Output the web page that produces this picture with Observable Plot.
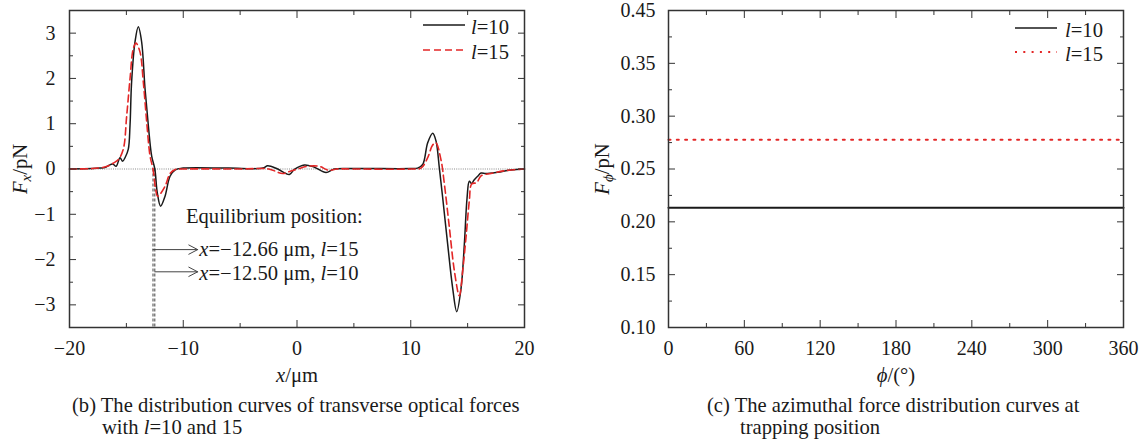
<!DOCTYPE html>
<html><head><meta charset="utf-8">
<script src="https://cdn.jsdelivr.net/npm/d3@7"></script>
<script src="https://cdn.jsdelivr.net/npm/@observablehq/plot@0.6"></script>
<style>
body{margin:0;background:#fff;font-family:"Liberation Serif","Times New Roman",serif;color:#1a1a1a;}
#wrap{display:flex;width:1142px;height:448px;overflow:hidden;}
.panel{position:relative;}
.cap{position:absolute;font-size:20.6px;line-height:22px;white-space:nowrap;}
.cap .l2{padding-left:30px;}
</style></head><body><div id="wrap"><div class="panel" id="pb"></div><div class="panel" id="pc"></div></div>
<script>
// ---------- Panel (b): transverse optical force Fx vs x ----------
const x10 = [-20,-18,-17.3,-16.9,-16.6,-16.2,-15.9,-15.56,-15.33,-15.1,-14.83,-14.68,-14.54,-14.24,-13.95,-13.66,-13.36,-13.07,-12.78,-12.5,-12.28,-11.99,-11.6,-11.16,-10.7,-10,-6,-3,-2.58,-1.7,-0.67,-0.23,0.65,1.52,2.55,3.28,5,10,10.6,11.05,11.49,11.93,12.22,12.51,12.81,13.25,13.69,14.04,14.42,14.71,14.95,15.15,15.35,15.55,15.88,16.18,16.6,17.64,18.8,20];
const fx10 = [0,0.01,0.02,0.03,0.07,0.11,0.06,0.25,0.17,0.26,0.44,0.96,1.92,2.81,3.14,2.81,1.77,0.96,0.29,0,-0.53,-0.82,-0.6,-0.16,-0.02,0.02,0.02,0.02,0.07,0,-0.12,-0.01,0.09,0.04,-0.08,0,0.01,0.01,0.02,0.1,0.58,0.79,0.62,0.03,-0.64,-1.67,-2.64,-3.15,-2.64,-1.67,-0.64,-0.27,-0.32,-0.25,-0.16,-0.09,-0.1,-0.07,-0.02,0];
const x15 = [-20,-18,-17,-16.5,-16.15,-15.7,-15.27,-14.97,-14.68,-14.39,-14.15,-13.8,-13.51,-13.21,-12.92,-12.66,-12.45,-12.25,-11.6,-11.16,-10.7,-10,-5,-2.5,-1.26,-0.6,0.06,0.94,1.93,2.81,3.5,5,10,10.9,11.49,11.9,12.2,12.66,12.95,13.39,13.83,14.27,14.57,14.86,15.15,15.36,15.8,16.18,17.05,18.2,20];
const fx15 = [0,0.01,0.04,0.08,0.13,0.21,0.44,1.18,1.99,2.66,2.78,2.58,1.92,1.03,0.29,0,-0.4,-0.6,-0.38,-0.1,-0.01,0,0,0,-0.1,-0.05,0,0.06,0.06,-0.03,0,0,0,0.02,0.25,0.52,0.58,0.2,-0.32,-1.28,-2.24,-2.8,-2.24,-1.5,-0.7,-0.33,-0.3,-0.15,-0.1,-0.04,0];
const eqX = [-12.66, -12.50];           // equilibrium positions (l=15, l=10)
const eqArrowY = [-1.78, -2.27];        // arrow rows
const eqArrowEnd = -8.73;
const eqLabels = ["x=−12.66 μm, l=15", "x=−12.50 μm, l=10"];
const eqTitle = "Equilibrium position:";
const xTicksB = [-20,-10,0,10,20], xMinorB = [-15,-5,5,15];
const yTicksB = [-3,-2,-1,0,1,2,3], yMinorB = [-2.5,-1.5,-0.5,0.5,1.5,2.5];

// ---------- Panel (c): azimuthal force Fphi vs phi ----------
const phi = [0,60,120,180,240,300,360];
const fphi10 = [0.2133,0.2133,0.2133,0.2133,0.2133,0.2133,0.2133];
const fphi15 = [0.2776,0.2776,0.2776,0.2776,0.2776,0.2776,0.2776];
const xTicksC = [0,60,120,180,240,300,360], xMinorC = [30,90,150,210,270,330];
const yTicksC = [0.10,0.15,0.20,0.25,0.30,0.35,0.40], yMinorC = [0.125,0.175,0.225,0.275,0.325,0.375];
const yTickLabelsC = ["0.10","0.15","0.20","0.25","0.30","0.35","0.45"];

const seriesNames = ["l=10","l=15"];

// rich text pieces (italic / subscript)
const rich = {
  "Fx/pN": [["F","i"],["x","isub"],["/pN",""]],
  "Fphi/pN": [["F","i"],["ϕ","isub"],["/pN",""]],
  "x/μm": [["x","i"],["/μm",""]],
  "phi/(°)": [["ϕ","i"],["/(°)",""]],
  "l=10": [["l","i"],["=10",""]],
  "l=15": [["l","i"],["=15",""]],
  "x=−12.66 μm, l=15": [["x","i"],["=−12.66 μm, ",""],["l","i"],["=15",""]],
  "x=−12.50 μm, l=10": [["x","i"],["=−12.50 μm, ",""],["l","i"],["=10",""]]
};
function applyRich(svg){
  svg.querySelectorAll("text").forEach(t => {
    const segs = rich[t.textContent];
    if (!segs) return;
    t.textContent = "";
    let shifted = false;
    for (const [s, st] of segs) {
      const ts = document.createElementNS("http://www.w3.org/2000/svg","tspan");
      ts.textContent = s;
      if (st.includes("i")) ts.setAttribute("font-style","italic");
      if (st.includes("sub")) { ts.setAttribute("dy","4"); ts.setAttribute("font-size","15"); shifted = true; }
      else if (shifted) { ts.setAttribute("dy","-4"); shifted = false; }
      t.appendChild(ts);
    }
  });
}

const FS = 20.6;
function legendMark(items, o){
  return (index, scales, values, dims) => {
    const g = d3.create("svg:g");
    const R = dims.width - dims.marginRight;
    items.forEach((s, i) => {
      const y = dims.marginTop + o.rowY[i];
      g.append("line").attr("x1", R - o.x1).attr("x2", R - o.x2).attr("y1", y).attr("y2", y)
        .attr("stroke", s.color).attr("stroke-width", s.width).attr("stroke-dasharray", s.dash);
      g.append("text").attr("x", R - o.tx).attr("y", y + 2).attr("dy", "0.32em")
        .attr("text-anchor", "start").attr("font-size", FS).attr("fill", "#1a1a1a").text(s.label);
    });
    return g.node();
  };
}

const INK = "#1a1a1a", FRAME = "#333", RED = "#e32626";
function tickMarks(major, minor, majorY, minorY){
  const out = [];
  for (const a of ["bottom","top"]) {
    out.push(Plot.axisX(major, {anchor:a, tickSize:-7, fill:"none", stroke:FRAME, label:null}));
    out.push(Plot.axisX(minor, {anchor:a, tickSize:-4, fill:"none", stroke:FRAME, label:null}));
  }
  for (const a of ["left","right"]) {
    out.push(Plot.axisY(majorY, {anchor:a, tickSize:-7, fill:"none", stroke:FRAME, label:null}));
    out.push(Plot.axisY(minorY, {anchor:a, tickSize:-4, fill:"none", stroke:FRAME, label:null}));
  }
  return out;
}

const style = {fontFamily:'"Liberation Serif","Times New Roman",serif', fontSize:FS+"px", color:INK, background:"white", overflow:"visible"};

// ---- build panel b ----
const dataB = [
  ...x10.map((x,i)=>({x, f:fx10[i], s:seriesNames[0]})),
  ...x15.map((x,i)=>({x, f:fx15[i], s:seriesNames[1]}))
];
const plotB = Plot.plot({
  width:600, height:390, marginLeft:69, marginRight:76, marginTop:10, marginBottom:63,
  style,
  x:{domain:[-20,20]}, y:{domain:[-3.5,3.5]},
  marks:[
    Plot.ruleY([0], {stroke:"#8a8a8a", strokeWidth:1, strokeDasharray:"1,1.2"}),
    Plot.ruleX(eqX, {x:d=>d, y1:0, y2:-3.5, stroke:"#444", strokeWidth:1, strokeDasharray:"3,2"}),
    Plot.line(dataB.filter(d=>d.s===seriesNames[0]), {x:"x", y:"f", stroke:INK, strokeWidth:1.5, curve:"catmull-rom"}),
    Plot.line(dataB.filter(d=>d.s===seriesNames[1]), {x:"x", y:"f", stroke:RED, strokeWidth:1.6, strokeDasharray:"7,4", curve:"catmull-rom"}),
    Plot.arrow(eqX, {x1:d=>d, x2:()=>eqArrowEnd, y1:(d,i)=>eqArrowY[i], y2:(d,i)=>eqArrowY[i], stroke:"#444", strokeWidth:1, headLength:15, headAngle:55}),
    Plot.text([eqTitle], {x:()=>-9.76, y:()=>-1.04, text:d=>d, textAnchor:"start", lineAnchor:"middle", fontSize:FS, fill:INK}),
    Plot.text(eqLabels, {x:()=>-8.59, y:(d,i)=>[-1.77,-2.3][i], text:d=>d, textAnchor:"start", lineAnchor:"middle", fontSize:FS, fill:INK}),
    Plot.frame({stroke:FRAME, strokeWidth:1.5}),
    ...tickMarks(xTicksB, xMinorB, yTicksB, yMinorB),
    Plot.axisX(xTicksB, {anchor:"bottom", tickSize:0, tickPadding:13, label:null, fontSize:20, fill:INK}),
    Plot.axisY(yTicksB, {anchor:"left", tickSize:0, tickPadding:14, label:null, fontSize:20, fill:INK}),
    Plot.text(["Fx/pN"], {frameAnchor:"left", dx:-49, rotate:-90, textAnchor:"middle", lineAnchor:"middle", text:d=>d, fontSize:FS, fill:INK}),
    Plot.text(["x/μm"], {frameAnchor:"bottom", dy:48, textAnchor:"middle", lineAnchor:"middle", text:d=>d, fontSize:FS, fill:INK}),
    legendMark([
      {label:seriesNames[0], color:INK, width:1.5, dash:null},
      {label:seriesNames[1], color:RED, width:1.6, dash:"7,4"}
    ], {rowY:[15,40], x1:101, x2:59, tx:53})
  ]
});
applyRich(plotB);
const pb = document.getElementById("pb");
pb.style.width = "600px";
pb.appendChild(plotB);
const capB = document.createElement("div");
capB.className = "cap"; capB.style.left = "72px"; capB.style.top = "394px";
capB.innerHTML = '(b) The distribution curves of transverse optical forces<br><span class="l2">with <i>l</i>=10 and 15</span>';
pb.appendChild(capB);

// ---- build panel c ----
const dataC = [
  ...phi.map((p,i)=>({p, f:fphi10[i], s:seriesNames[0]})),
  ...phi.map((p,i)=>({p, f:fphi15[i], s:seriesNames[1]}))
];
const labelMapC = new Map(yTicksC.map((t,i)=>[Math.round(t*1000), yTickLabelsC[i]]));
const plotC = Plot.plot({
  width:542, height:390, marginLeft:68, marginRight:19, marginTop:10, marginBottom:63,
  style,
  x:{domain:[0,360]}, y:{domain:[0.10,0.40]},
  marks:[
    Plot.line(dataC.filter(d=>d.s===seriesNames[0]), {x:"p", y:"f", stroke:INK, strokeWidth:2}),
    Plot.line(dataC.filter(d=>d.s===seriesNames[1]), {x:"p", y:"f", stroke:RED, strokeWidth:2, strokeDasharray:"2,6.3"}),
    Plot.frame({stroke:FRAME, strokeWidth:1.5}),
    ...tickMarks(xTicksC, xMinorC, yTicksC, yMinorC),
    Plot.axisX(xTicksC, {anchor:"bottom", tickSize:0, tickPadding:13, label:null, fontSize:20, fill:INK}),
    Plot.axisY(yTicksC, {anchor:"left", tickSize:0, tickPadding:13, label:null, fontSize:20, fill:INK, tickFormat:d=>labelMapC.get(Math.round(d*1000))}),
    Plot.text(["Fphi/pN"], {frameAnchor:"left", dx:-66, rotate:-90, textAnchor:"middle", lineAnchor:"middle", text:d=>d, fontSize:FS, fill:INK}),
    Plot.text(["phi/(°)"], {frameAnchor:"bottom", dy:48, textAnchor:"middle", lineAnchor:"middle", text:d=>d, fontSize:FS, fill:INK}),
    legendMark([
      {label:seriesNames[0], color:INK, width:1.5, dash:null},
      {label:seriesNames[1], color:RED, width:2, dash:"2,6.3"}
    ], {rowY:[18,42], x1:108, x2:66, tx:58})
  ]
});
applyRich(plotC);
const pc = document.getElementById("pc");
pc.style.width = "542px";
pc.appendChild(plotC);
const capC = document.createElement("div");
capC.className = "cap"; capC.style.left = "107px"; capC.style.top = "394px";
capC.innerHTML = '(c) The azimuthal force distribution curves at<br><span class="l2" style="padding-left:33px">trapping position</span>';
pc.appendChild(capC);
</script></body></html>
